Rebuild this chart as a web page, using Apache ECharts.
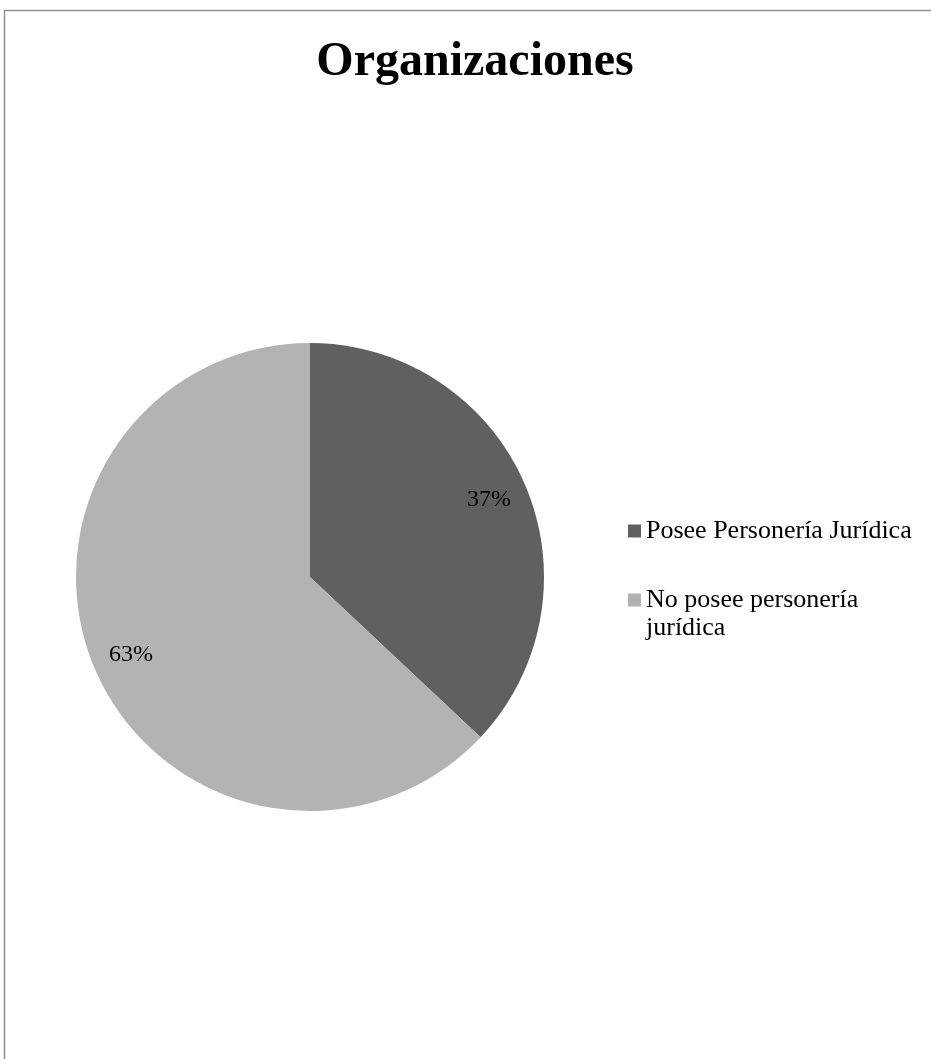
<!DOCTYPE html>
<html>
<head>
<meta charset="utf-8">
<script src="https://cdn.jsdelivr.net/npm/echarts@6/dist/echarts.min.js"></script>
<style>
  html, body { margin: 0; padding: 0; background: #fff; }
  #chart { width: 931px; height: 1059px; }
</style>
</head>
<body>
<div id="chart"></div>
<script>
// Share of organizations by legal status (percent)
const categories = ['Posee Personería Jurídica', 'No posee personería jurídica'];
// legend text; the leading blank line keeps the swatch level with the first line of a wrapped entry
const legendLabels = ['Posee Personería Jurídica', '\nNo posee personería\njurídica'];
const values = [37, 63];
const colors = ['#606060', '#b3b3b3'];

const SERIF = '"Liberation Serif", "Times New Roman", serif';
const pieCenter = [310, 577];
const pieRadius = 234;

const chart = echarts.init(document.getElementById('chart'), null, { renderer: 'canvas' });

const sliceData = categories.map((name, i) => ({
  name: name,
  value: values[i],
  itemStyle: { color: colors[i] }
}));

chart.setOption({
  backgroundColor: '#ffffff',
  animation: false,
  title: {
    text: 'Organizaciones',
    left: 470,
    top: 34,
    textAlign: 'center',
    textStyle: {
      fontFamily: SERIF,
      fontWeight: 'bold',
      fontSize: 48,
      color: '#000000'
    }
  },
  legend: {
    orient: 'vertical',
    left: 623,
    top: 512,
    itemWidth: 13,
    itemHeight: 13,
    itemGap: 13,
    icon: 'rect',
    selectedMode: false,
    data: categories,
    formatter: name => legendLabels[categories.indexOf(name)],
    textStyle: {
      fontFamily: SERIF,
      fontSize: 26,
      lineHeight: 28,
      color: '#000000'
    }
  },
  graphic: [{
    type: 'rect',
    silent: true,
    shape: { x: 4.5, y: 10.5, width: 1000, height: 1100 },
    style: { fill: 'none', stroke: '#8e8e8e', lineWidth: 1.5 },
    z: 100
  }],
  series: [
    {
      type: 'pie',
      center: pieCenter,
      radius: [0, pieRadius],
      startAngle: 90,
      clockwise: true,
      avoidLabelOverlap: false,
      label: { show: false },
      labelLine: { show: false },
      emphasis: { disabled: true },
      data: sliceData
    },
    {
      // transparent ring that carries the percentage labels near the rim
      type: 'pie',
      center: pieCenter,
      radius: [150, pieRadius],
      startAngle: 90,
      clockwise: true,
      silent: true,
      avoidLabelOverlap: false,
      itemStyle: { color: 'rgba(0,0,0,0)' },
      label: {
        show: true,
        position: 'inside',
        formatter: p => p.value + '%',
        fontFamily: SERIF,
        fontSize: 24,
        color: '#000000'
      },
      labelLine: { show: false },
      emphasis: { disabled: true },
      data: categories.map((name, i) => ({ name: name, value: values[i] }))
    }
  ]
});
</script>
</body>
</html>
